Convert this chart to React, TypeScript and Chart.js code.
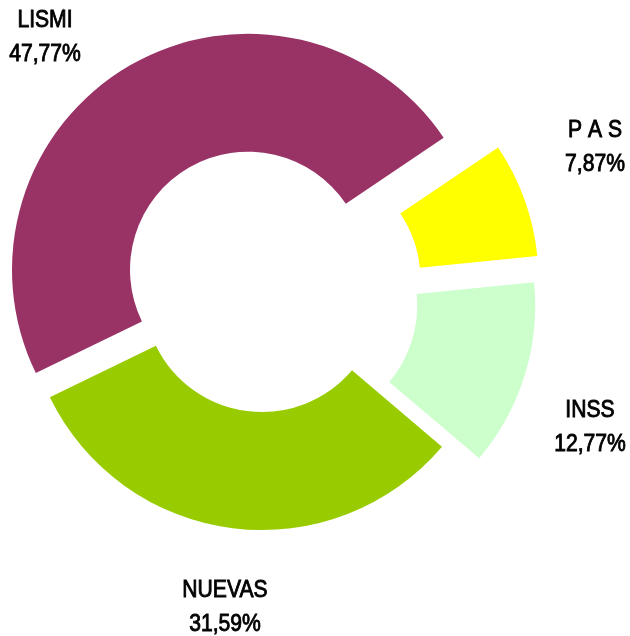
import React, { useEffect, useRef } from "react";
import { Chart, registerables } from "chart.js";

Chart.register(...registerables);

// ---- data ----
const categories = ["P A S", "INSS", "NUEVAS", "LISMI"];
const shares = [7.87, 12.77, 31.59, 47.77];
const shareLabels = ["7,87%", "12,77%", "31,59%", "47,77%"];

// ---- styles ----
const sliceColors = ["#FFFF00", "#CCFFCC", "#99CC00", "#993366"];
const explodePx = [43, 39, 0, 28];
// label anchor: centre x and baseline y of the first line (page pixels)
const labelAnchors = [
  [595, 137],
  [590, 417],
  [225, 597],
  [45, 27],
];
const LINE_GAP = 34;
const NARROW = 0.88;
const FONT = '24px "Liberation Sans", Arial, sans-serif';

const explodePlugin = {
  id: "explodeSlices",
  afterDatasetUpdate(chart: any, args: any) {
    const meta = chart.getDatasetMeta(args.index);
    meta.data.forEach((arc: any, i: number) => {
      const mid = (arc.startAngle + arc.endAngle) / 2;
      const d = explodePx[i] || 0;
      arc.x += Math.cos(mid) * d;
      arc.y += Math.sin(mid) * d;
    });
  },
};

const labelPlugin = {
  id: "sliceLabels",
  afterDraw(chart: any) {
    const ctx = chart.ctx;
    categories.forEach((name, i) => {
      const [x, y] = labelAnchors[i];
      ctx.save();
      ctx.font = FONT;
      ctx.fillStyle = "#000000";
      ctx.strokeStyle = "#000000";
      ctx.lineWidth = 0.9;
      ctx.textAlign = "center";
      ctx.textBaseline = "alphabetic";
      ctx.translate(x, y);
      ctx.scale(NARROW, 1);
      ctx.fillText(name, 0, 0);
      ctx.strokeText(name, 0, 0);
      ctx.fillText(shareLabels[i], 0, LINE_GAP);
      ctx.strokeText(shareLabels[i], 0, LINE_GAP);
      ctx.restore();
    });
  },
};

export default function App() {
  const ref = useRef<HTMLCanvasElement | null>(null);

  useEffect(() => {
    if (!ref.current) return;
    const chart = new Chart(ref.current, {
      type: "doughnut",
      data: {
        labels: categories,
        datasets: [
          {
            data: shares,
            backgroundColor: sliceColors,
            borderWidth: 0,
          },
        ],
      },
      options: {
        responsive: false,
        animation: false,
        rotation: 56,
        cutout: "50%",
        radius: 236,
        layout: { padding: { left: 0, top: 0, right: 106, bottom: 48 } },
        plugins: {
          legend: { display: false },
          tooltip: { enabled: false },
          title: { display: false },
        },
        events: [],
      } as any,
      plugins: [explodePlugin, labelPlugin],
    });
    return () => chart.destroy();
  }, []);

  return (
    <div style={{ position: "absolute", left: 0, top: 0, width: 630, height: 636, background: "#ffffff" }}>
      <canvas ref={ref} width={630} height={636} style={{ display: "block", width: 630, height: 636 }} />
    </div>
  );
}
